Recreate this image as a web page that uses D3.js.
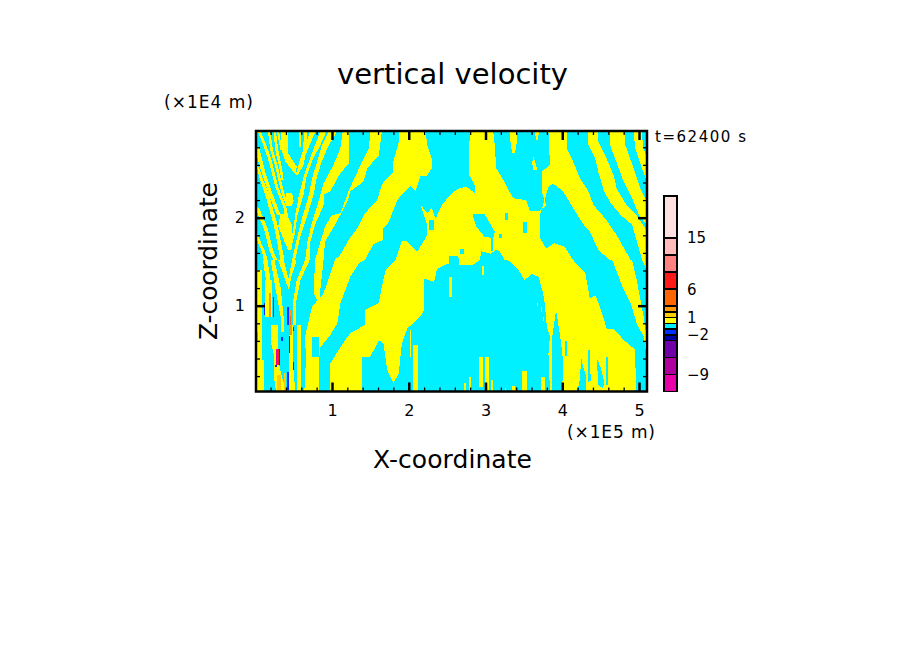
<!DOCTYPE html>
<html>
<head>
<meta charset="utf-8">
<script src="https://cdn.jsdelivr.net/npm/d3@7"></script>
<style>
  body { margin: 0; background: #fff; }
  text { font-family: "DejaVu Sans", sans-serif; fill: #000; }
</style>
</head>
<body>
<script>
// Contour levels of w (m/s) and the colour of each band
const LEVELS = [-12, -9, -6, -3, -2, -1, 0, 1, 2, 3, 6, 9, 12, 15, 22.4]
const COLORS = ['#e800a8', '#b000a0', '#7000a8', '#0000aa', '#0030ff', '#00f0ff', '#ffff00',
  '#ffcc00', '#ff9900', '#ff6600', '#ff1a1a', '#ff8080', '#ffbbbb', '#ffe0e0']
const BAR_LABELS = [15, 6, 1, -2, -9]

const X_MAJOR = [1, 2, 3, 4, 5]
const Z_MAJOR = [1, 2]

// Regions with w > 0, outlined as [x (1E5 m), z (1E4 m)]
const YELLOW_REGIONS = [
  // central band coming down from the top
  [[2.22,2.985],[2.24,2.83],[2.30,2.67],[2.30,2.56],[2.24,2.48],[2.15,2.47],[2.09,2.30],[2.02,2.36],[1.96,2.31],[1.85,2.20],[1.74,1.95],[1.67,1.88],[1.67,1.75],[1.54,1.70],[1.43,1.52],[1.35,1.48],[1.24,1.33],[1.11,1.03],[1.07,.80],[.98,.67],[.85,.53],[.83,.38],[.83,.03],[.64,.03],[.66,.38],[.65,.65],[.74,.99],[.80,1.05],[.89,1.14],[.98,1.37],[1.04,1.52],[1.11,1.58],[1.22,1.75],[1.33,1.88],[1.43,2.05],[1.59,2.20],[1.65,2.38],[1.80,2.52],[1.80,2.64],[1.87,2.86],[1.87,2.985]],
  // big arch over the central updraft
  [[.98,.03],[.98,.345],[1.11,.53],[1.24,.69],[1.43,.78],[1.43,.95],[1.61,1.03],[1.65,1.22],[1.70,1.41],[1.83,1.52],[1.91,1.73],[1.98,1.73],[2.11,1.61],[2.24,1.80],[2.24,1.92],[2.15,2.15],[2.24,2.05],[2.30,2.11],[2.35,1.99],[2.43,2.14],[2.54,2.26],[2.64,2.33],[2.75,2.35],[2.86,2.28],[2.86,2.37],[2.79,2.48],[2.78,2.71],[2.80,2.985],[3.10,2.985],[3.12,2.83],[3.14,2.56],[3.23,2.43],[3.36,2.22],[3.53,2.20],[3.58,2.07],[3.71,2.08],[3.79,2.14],[3.73,2.30],[3.73,2.52],[3.84,2.60],[3.82,2.985],[4.06,2.985],[4.06,2.79],[4.14,2.64],[4.23,2.45],[4.34,2.30],[4.41,2.14],[4.56,1.99],[4.71,1.80],[4.89,1.52],[4.91,1.52],[4.97,1.29],[5.06,.875],[5.10,.63],[5.10,.42],[5.06,.65],[4.97,.80],[4.89,1.03],[4.80,1.18],[4.65,1.52],[4.62,1.52],[4.47,1.63],[4.36,1.84],[4.28,1.92],[4.17,2.07],[4.01,2.30],[3.88,2.39],[3.82,2.35],[3.71,2.03],[3.71,1.77],[3.79,1.65],[3.90,1.71],[4.03,1.67],[4.14,1.52],[4.30,1.37],[4.36,1.08],[4.43,1.12],[4.49,.99],[4.58,.74],[4.67,.74],[4.80,.61],[4.95,.50],[4.96,.04],[4.91,.03],[3.84,.03],[3.82,.46],[3.84,.65],[3.80,.76],[3.77,1.03],[3.75,1.14],[3.69,1.33],[3.60,1.36],[3.51,1.29],[3.42,1.42],[3.29,1.52],[3.25,1.52],[3.18,1.62],[3.14,1.64],[3.07,1.59],[2.94,1.62],[2.93,1.52],[2.83,1.46],[2.66,1.46],[2.66,1.52],[2.64,1.56],[2.53,1.56],[2.52,1.48],[2.37,1.42],[2.33,1.27],[2.20,1.31],[2.20,.95],[2.15,.875],[1.98,.74],[1.91,.57],[1.87,.23],[1.80,.12],[1.72,.27],[1.67,.57],[1.61,.61],[1.50,.42],[1.39,.42],[1.39,.03]],
  // wave bands, right side
  [[4.33,2.985],[4.34,2.83],[4.43,2.67],[4.47,2.52],[4.54,2.31],[4.62,2.18],[4.76,2.03],[4.91,1.92],[5.04,1.52],[5.10,1.40],[5.10,1.84],[5.08,1.88],[4.95,2.05],[4.84,2.14],[4.71,2.33],[4.67,2.48],[4.58,2.67],[4.47,2.86],[4.47,2.985]],
  [[4.62,2.985],[4.62,2.83],[4.71,2.62],[4.80,2.41],[4.91,2.22],[5.0,2.03],[5.10,1.92],[5.10,2.18],[5.02,2.33],[4.93,2.56],[4.82,2.83],[4.81,2.985]],
  [[4.93,2.985],[4.95,2.79],[5.04,2.56],[5.10,2.41],[5.10,2.69],[5.05,2.81],[5.04,2.985]],
  // wave bands rising to the right, left side
  [[1.50,2.985],[1.48,2.79],[1.33,2.52],[1.22,2.31],[1.11,2.05],[1.0,2.03],[.91,1.90],[.85,1.73],[.78,1.52],[.76,1.14],[.83,1.03],[.89,1.52],[.91,1.73],[1.04,1.92],[1.2,2.18],[1.24,2.30],[1.41,2.41],[1.46,2.56],[1.61,2.71],[1.65,2.985]],
  [[1.14,2.985],[1.11,2.79],[1.02,2.60],[.89,2.39],[.83,2.20],[.74,1.95],[.68,1.73],[.65,1.52],[.54,1.29],[.49,1.03],[.49,.78],[.53,.78],[.53,1.03],[.59,1.29],[.71,1.52],[.72,1.73],[.78,1.92],[.89,2.14],[.89,2.26],[.98,2.30],[1.09,2.48],[1.22,2.62],[1.22,2.985]],
  [[.96,2.985],[.87,2.83],[.80,2.62],[.74,2.45],[.70,2.26],[.61,2.0],[.54,1.76],[.48,1.52],[.52,1.52],[.58,1.76],[.67,2.0],[.76,2.26],[.80,2.45],[.86,2.62],[.95,2.81],[1.07,2.985]],
  [[.85,2.985],[.78,2.83],[.70,2.64],[.63,2.47],[.57,2.26],[.52,2.03],[.49,1.84],[.45,1.65],[.47,1.65],[.52,1.84],[.55,2.03],[.63,2.26],[.67,2.47],[.74,2.64],[.85,2.83],[.93,2.985]],
  // top of the chevron
  [[.34,2.985],[.34,2.77],[.39,2.64],[.48,2.54],[.53,2.49],[.54,2.58],[.43,2.73],[.43,2.985]],
  [[.565,2.985],[.59,2.985],[.59,2.80],[.565,2.80]],
  [[.64,2.985],[.675,2.985],[.66,2.75],[.63,2.60],[.56,2.49],[.53,2.49],[.59,2.60],[.62,2.75]],
  [[.72,2.985],[.79,2.985],[.71,2.83],[.63,2.65],[.56,2.49],[.53,2.49],[.58,2.65],[.65,2.83]],
  [[.40,2.28],[.48,2.28],[.50,2.20],[.48,2.13],[.41,2.13],[.39,2.20]],
  [[.33,2.05],[.41,2.03],[.48,1.92],[.49,1.77],[.47,1.63],[.43,1.63],[.37,1.75],[.30,1.90]],
  // wave bands falling to the right, left side
  [[.03,2.985],[.11,2.81],[.17,2.66],[.22,2.49],[.26,2.35],[.30,2.26],[.37,2.11],[.39,2.0],[.43,2.0],[.41,2.11],[.34,2.26],[.30,2.35],[.26,2.49],[.21,2.66],[.15,2.81],[.07,2.985]],
  [[.165,2.985],[.195,2.77],[.26,2.58],[.30,2.43],[.35,2.26],[.40,2.14],[.44,2.14],[.385,2.26],[.335,2.43],[.295,2.58],[.23,2.77],[.195,2.985]],
  [[.24,2.985],[.27,2.985],[.30,2.77],[.345,2.58],[.37,2.43],[.34,2.43],[.31,2.58],[.26,2.77]],
  [[.28,2.985],[.31,2.985],[.35,2.77],[.33,2.77]],
  [[.01,2.74],[.07,2.55],[.11,2.44],[.18,2.26],[.28,2.03],[.33,2.03],[.23,2.26],[.16,2.44],[.12,2.55],[.05,2.80],[.01,2.80]],
  [[.01,2.60],[.06,2.44],[.13,2.26],[.24,1.92],[.33,1.52],[.38,1.52],[.29,1.92],[.18,2.26],[.10,2.44],[.01,2.66]],
  [[.01,2.09],[.11,1.88],[.19,1.61],[.24,1.52],[.29,1.52],[.24,1.61],[.16,1.88],[.06,2.09],[.01,2.14]],
  [[.01,1.77],[.09,1.61],[.11,1.52],[.16,1.52],[.13,1.61],[.01,1.85]],
  // lower left, below the chevron
  [[.01,1.40],[.09,1.40],[.09,.03],[.01,.03]],
  [[.09,.38],[.12,.38],[.12,.03],[.09,.03]],
  [[.10,1.52],[.16,1.52],[.20,1.29],[.14,1.29]],
  [[.13,1.29],[.22,1.29],[.22,.875],[.13,.875]],
  [[.20,1.52],[.25,1.52],[.33,1.21],[.37,.875],[.33,.875],[.26,1.21]],
  [[.30,1.52],[.37,1.52],[.44,1.29],[.44,1.18],[.39,1.29]],
  [[.48,1.52],[.54,1.52],[.47,1.33],[.44,1.18],[.44,1.33]],
  [[.20,.78],[.30,.78],[.30,.40],[.33,.25],[.40,.03],[.27,.03],[.24,.22],[.24,.45],[.20,.60]],
  [[.33,.875],[.37,.875],[.37,.70],[.33,.70]],
  [[.44,.78],[.49,.78],[.49,.40],[.52,.03],[.44,.03],[.44,.40]],
  [[.55,.78],[.60,.78],[.60,.03],[.55,.03]],
  // tongues in the top downdraft
  [[3.31,2.985],[3.42,2.985],[3.40,2.80],[3.38,2.73],[3.35,2.73],[3.33,2.82]],
  [[3.64,2.985],[3.70,2.985],[3.68,2.88],[3.66,2.88]],
  [[3.62,2.71],[3.66,2.60],[3.67,2.54],[3.62,2.54],[3.61,2.62]]
]

// Holes with w < 0 inside the yellow regions
const CYAN_HOLES = [
  [[.74,.64],[.83,.64],[.83,.42],[.74,.42]],
  [[.01,.70],[.035,.70],[.035,.60],[.01,.60]],
  [[2.83,2.04],[2.99,2.04],[3.12,1.84],[3.10,1.77],[2.99,1.78],[2.88,1.90]],
  [[3.07,1.77],[3.10,1.77],[3.10,1.62],[3.07,1.62]],
  [[3.25,2.05],[3.29,2.05],[3.29,1.97],[3.25,1.97]],
  [[3.49,1.95],[3.54,1.95],[3.54,1.83],[3.49,1.83]],
  [[3.17,1.82],[3.21,1.82],[3.21,1.77],[3.17,1.77]],
  [[2.67,1.64],[2.72,1.64],[2.72,1.59],[2.67,1.59]],
  [[2.27,1.97],[2.33,1.97],[2.33,1.86],[2.27,1.86]],
  [[3.92,.95],[3.98,.61],[4.01,.38],[4.00,.03],[3.87,.03],[3.87,.65]],
  [[4.03,.60],[4.06,.60],[4.06,.43],[4.03,.43]],
  [[3.81,.56],[3.83,.56],[3.83,.46],[3.81,.46]],
  [[4.18,.03],[4.22,.10],[4.25,.40],[4.27,.31],[4.31,.20],[4.31,.03]],
  [[4.33,.50],[4.36,.50],[4.37,.15],[4.33,.12]],
  [[4.45,.40],[4.50,.30],[4.55,.12],[4.53,.06],[4.47,.10]],
  [[4.57,.42],[4.60,.42],[4.60,.10],[4.57,.10]]
]

// Narrow updraft spikes inside the cyan: x0, x1, z0, z1
const YELLOW_SPIKES = [
  [2.95, 2.98, 1.35, 1.45], [2.53, 2.56, 1.10, 1.33], [3.38, 3.39, .95, 1.03],
  [2.92, 2.97, .08, .42], [2.99, 3.04, .03, .42], [3.07, 3.10, .03, .15],
  [3.47, 3.54, .03, .26], [2.72, 2.75, .03, .12], [2.78, 2.81, .03, .19],
  [3.25, 3.27, .03, .06], [3.34, 3.38, .03, .09], [3.72, 3.77, .03, .19],
  [3.67, 3.69, 1.0, 1.03], [3.72, 3.74, .93, .99], [3.75, 3.76, .83, .87],
  [3.55, 3.56, .78, .82], [2.01, 2.03, .42, .72], [2.06, 2.12, .03, .55]
]

// Strong narrow cells near the left edge: x0, x1, z0, z1, w
const STRONG_CELLS = [
  [.175, .21, .875, 1.14, 2.5], [.435, .48, .67, .95, 2.5], [.45, .47, .78, .88, 4],
  [.28, .33, .04, .21, 1.5], [.38, .40, .03, .23, 1.5], [.49, .51, .52, .59, 2.5],
  [.23, .25, .875, 1.10, -1.5], [.12, .13, .89, 1.03, -1.5], [.41, .435, .78, .99, -1.5],
  [.41, .42, .85, 1.0, -3], [.49, .51, .71, .76, -1.5], [.49, .51, .27, .365, -1.5],
  [.435, .455, .46, .65, -1.5], [.34, .36, .60, .64, -1.5], [.31, .32, .33, .51, -1.5],
  [.29, .31, .33, .51, 7], [.27, .29, .33, .51, -10], [.41, .435, .04, .25, -1.5],
  [.26, .28, .30, .33, -1.5], [.37, .375, .76, .77, -1.5]
]

// Scales: plot frame in the page
const x = d3.scaleLinear().domain([0.01, 5.104]).range([256, 647])
const z = d3.scaleLinear().domain([0.025, 2.985]).range([391.5, 131])
const barY = d3.scaleLinear().domain([-12, 22.4]).range([391.7, 195.7])
const color = d3.scaleThreshold().domain(LEVELS.slice(1, -1)).range(COLORS)

const svg = d3.select('body').append('svg')
  .attr('width', 904)
  .attr('height', 654)
  .style('display', 'block')

const [plotLeft, plotRight] = x.range()
const [plotBottom, plotTop] = z.range()

svg.append('clipPath').attr('id', 'plot-clip')
  .append('rect')
  .attr('x', plotLeft).attr('y', plotTop)
  .attr('width', plotRight - plotLeft)
  .attr('height', plotBottom - plotTop)

const plot = svg.append('g')
  .attr('clip-path', 'url(#plot-clip)')
  .attr('shape-rendering', 'crispEdges')

const outline = d3.line().x(d => x(d[0])).y(d => z(d[1]))

// Everything negative is the background band
plot.append('rect')
  .attr('x', plotLeft).attr('y', plotTop)
  .attr('width', plotRight - plotLeft)
  .attr('height', plotBottom - plotTop)
  .attr('fill', color(-0.5))

plot.selectAll('path.yellow')
  .data(YELLOW_REGIONS)
  .enter()
  .append('path')
  .attr('class', 'yellow')
  .attr('d', d => outline(d) + 'Z')
  .attr('fill', color(0.5))

plot.selectAll('path.hole')
  .data(CYAN_HOLES)
  .enter()
  .append('path')
  .attr('class', 'hole')
  .attr('d', d => outline(d) + 'Z')
  .attr('fill', color(-0.5))

function cells(selector, rows, value) {
  plot.selectAll(selector)
    .data(rows)
    .enter()
    .append('rect')
    .attr('class', selector.split('.')[1])
    .attr('x', d => x(d[0]))
    .attr('y', d => z(d[3]))
    .attr('width', d => x(d[1]) - x(d[0]))
    .attr('height', d => z(d[2]) - z(d[3]))
    .attr('fill', value)
}
cells('rect.spike', YELLOW_SPIKES, color(0.5))
cells('rect.strong', STRONG_CELLS, d => color(d[4]))

// Axes, ticks pointing inward on all four sides
function drawTicks(axis, translate, values, size, width, format) {
  const g = svg.append('g')
    .attr('transform', translate)
    .call(axis.tickValues(values).tickSizeInner(-size).tickSizeOuter(0).tickPadding(12).tickFormat(format))
  g.select('.domain').remove()
  g.selectAll('line').attr('stroke', '#000').attr('stroke-width', width)
  g.selectAll('text').attr('font-size', 16).attr('font-family', '"DejaVu Sans", sans-serif')
  return g
}

const noLabel = () => ''
const xMinor = d3.range(0.2, 5.05, 0.2).filter(v => Math.abs(v - Math.round(v)) > 0.01)
const zMinor = d3.range(0.2, 2.95, 0.2).filter(v => Math.abs(v - Math.round(v)) > 0.01)

drawTicks(d3.axisBottom(x), `translate(0,${plotBottom})`, xMinor, 4, 1.3, noLabel)
drawTicks(d3.axisTop(x), `translate(0,${plotTop})`, xMinor, 4, 1.3, noLabel)
drawTicks(d3.axisLeft(z), `translate(${plotLeft},0)`, zMinor, 4, 1.3, noLabel)
drawTicks(d3.axisRight(z), `translate(${plotRight},0)`, zMinor, 4, 1.3, noLabel)
drawTicks(d3.axisBottom(x), `translate(0,${plotBottom})`, X_MAJOR, 9, 2.5, d3.format('d'))
  .selectAll('text').attr('dy', 0).attr('y', 24)
drawTicks(d3.axisTop(x), `translate(0,${plotTop})`, X_MAJOR, 9, 2.5, noLabel)
drawTicks(d3.axisLeft(z), `translate(${plotLeft},0)`, Z_MAJOR, 9, 2.5, d3.format('d'))
  .selectAll('text').attr('x', -11)
drawTicks(d3.axisRight(z), `translate(${plotRight},0)`, Z_MAJOR, 9, 2.5, noLabel)

svg.append('rect')
  .attr('x', plotLeft).attr('y', plotTop)
  .attr('width', plotRight - plotLeft).attr('height', plotBottom - plotTop)
  .attr('fill', 'none').attr('stroke', '#000').attr('stroke-width', 2.5)

// Colour bar
const bar = svg.append('g').attr('shape-rendering', 'crispEdges')
bar.selectAll('rect')
  .data(COLORS)
  .enter()
  .append('rect')
  .attr('x', 664)
  .attr('y', (_, i) => barY(LEVELS[i + 1]))
  .attr('width', 13)
  .attr('height', (_, i) => barY(LEVELS[i]) - barY(LEVELS[i + 1]))
  .attr('fill', d => d)
  .attr('stroke', '#000')
  .attr('stroke-width', 1.6)

svg.selectAll('text.bar-label')
  .data(BAR_LABELS)
  .enter()
  .append('text')
  .attr('class', 'bar-label')
  .attr('x', 687)
  .attr('y', d => barY(d) + 5.5)
  .attr('font-size', 15)
  .text(d => d3.format('d')(d).replace('-', '\u2212'))

// Titles and unit notes
function label(str, px, py, size, length, rotate) {
  const t = svg.append('text')
    .attr('font-size', size)
    .attr('textLength', length)
    .attr('lengthAdjust', 'spacing')
    .text(str)
  if (rotate) t.attr('transform', `translate(${px},${py}) rotate(-90)`)
  else t.attr('x', px).attr('y', py)
}

label('vertical velocity', 337, 84, 29, 231)
label('(\u00d71E4 m)', 164, 108, 17, 89)
label('t=62400 s', 655, 142, 15, 91)
label('(\u00d71E5 m)', 567, 438, 17, 88)
label('X-coordinate', 373, 468, 25, 159)
label('Z-coordinate', 217, 340, 25, 158, true)
</script>
</body>
</html>
